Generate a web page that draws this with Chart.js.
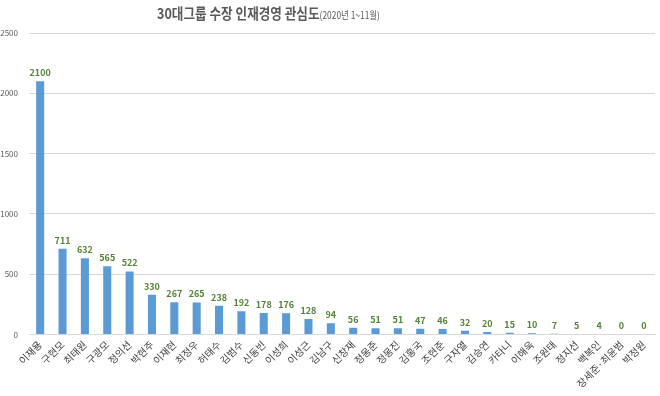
<!DOCTYPE html>
<html>
<head>
<meta charset="utf-8">
<script src="https://cdn.jsdelivr.net/npm/chart.js@4"></script>
<style>
  html, body { margin: 0; padding: 0; background: #fff; }
  #wrap { width: 660px; height: 396px; }
</style>
</head>
<body>
<div id="wrap"><canvas id="grafico"></canvas></div>
<script>
const nomes = ["이재용", "구현모", "최태원", "구광모", "정의선", "박현주", "이재현", "최정우", "허태수", "김범수",
  "신동빈", "이성희", "이성근", "김남구", "신창재", "정몽준", "정몽진", "김홍국", "조현준", "구자열",
  "김승연", "카타니", "이해욱", "조원태", "정지선", "백복인", "장세준·최윤범", "박정원"];
const valores = [2100, 711, 632, 565, 522, 330, 267, 265, 238, 192,
  178, 176, 128, 94, 56, 51, 51, 47, 46, 32,
  20, 15, 10, 7, 5, 4, 0, 0];
const yTicks = [0, 500, 1000, 1500, 2000, 2500];

const fonte = "'Noto Sans CJK KR', 'Noto Sans', sans-serif";

// titulo com duas partes (tamanhos diferentes), um pouco condensado
const tituloPlugin = {
  id: "titulo",
  afterDraw(chart) {
    const ctx = chart.ctx;
    const t1 = "30대그룹 수장 인재경영 관심도";
    const t2 = "(2020년 1~11월)";
    ctx.save();
    ctx.translate(157, 19);
    ctx.scale(0.84, 1);
    ctx.textBaseline = "alphabetic";
    ctx.fillStyle = "#595959";
    ctx.font = "bold 15px " + fonte;
    const w1 = ctx.measureText(t1).width;
    ctx.fillText(t1, 0, 0);
    ctx.font = "10px " + fonte;
    ctx.fillText(t2, w1, 0);
    ctx.restore();
  }
};

// rotulos dos valores em cima das barras
const rotulosPlugin = {
  id: "rotulos",
  afterDatasetsDraw(chart) {
    const ctx = chart.ctx;
    const meta = chart.getDatasetMeta(0);
    ctx.save();
    ctx.font = "bold 9px " + fonte;
    ctx.fillStyle = "#548235";
    ctx.textAlign = "center";
    ctx.textBaseline = "bottom";
    meta.data.forEach(function (bar, i) {
      ctx.fillText(String(valores[i]), bar.x, bar.y - 4);
    });
    ctx.restore();
  }
};

const ctx = document.getElementById("grafico").getContext("2d");

const grafico = new Chart(ctx, {
  type: "bar",
  data: {
    labels: nomes,
    datasets: [
      {
        label: "관심도",
        backgroundColor: "#5B9BD5",
        data: valores,
        barPercentage: 0.72,
        categoryPercentage: 0.5,
      },
    ],
  },
  options: {
    responsive: true,
    maintainAspectRatio: false,
    animation: false,
    layout: { padding: { top: 33, right: 5, left: 0, bottom: 2 } },
    plugins: {
      legend: { display: false },
      tooltip: { enabled: false },
    },
    scales: {
      x: {
        afterFit: function (scale) {
          scale.paddingLeft = 0;
          scale.paddingRight = 0;
        },
        grid: { display: false, drawTicks: false },
        border: { color: "#d9d9d9" },
        ticks: {
          autoSkip: false,
          minRotation: 45,
          maxRotation: 45,
          padding: 4,
          color: "#404040",
          font: { family: fonte, size: 10 },
        },
      },
      y: {
        min: 0,
        max: 2500,
        afterBuildTicks: function (axis) {
          axis.ticks = yTicks.map(function (v) { return { value: v }; });
        },
        afterFit: function (scale) {
          scale.width = 29;
        },
        grid: { color: "#d9d9d9", drawTicks: false },
        border: { display: false },
        ticks: {
          padding: 11,
          color: "#595959",
          font: { family: fonte, size: 8 },
          callback: function (v) { return String(v); },
        },
      },
    },
  },
  plugins: [tituloPlugin, rotulosPlugin],
});
</script>
</body>
</html>
